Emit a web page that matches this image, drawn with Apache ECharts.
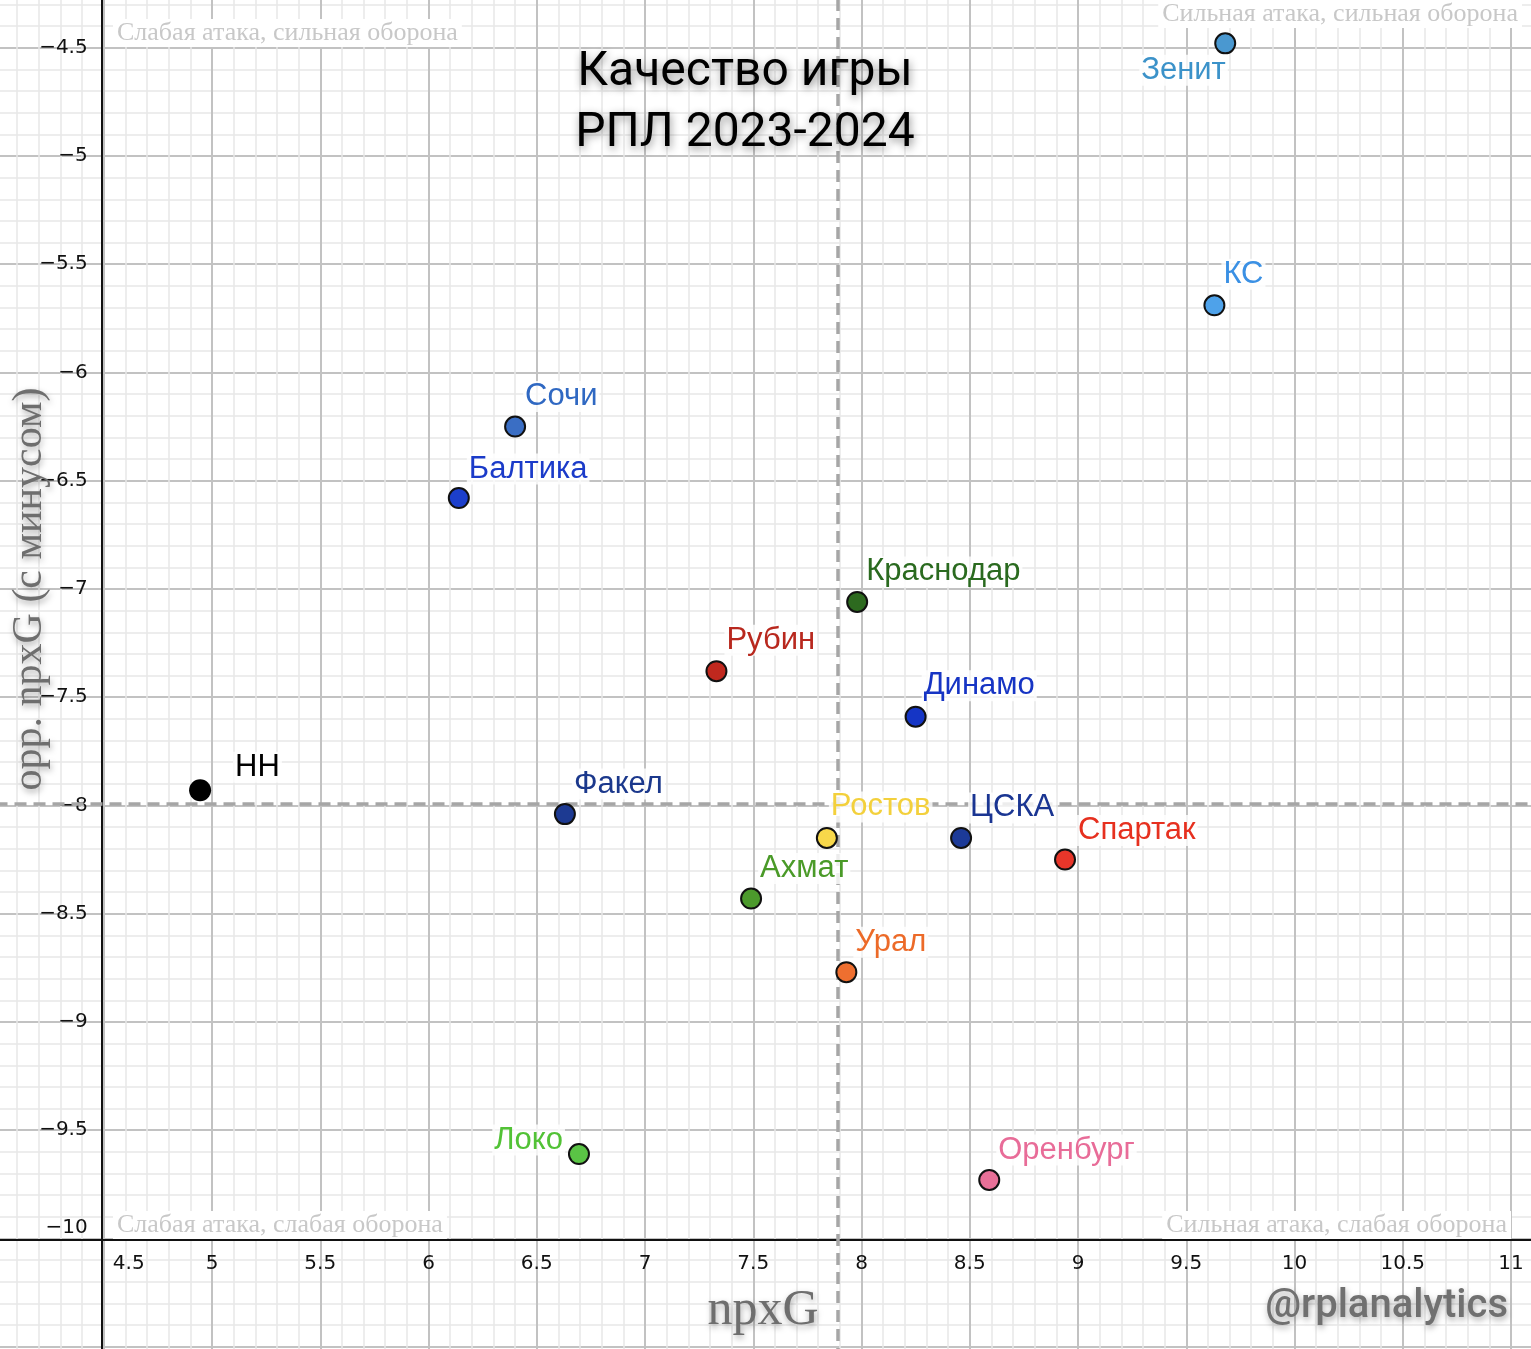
<!DOCTYPE html>
<html>
<head>
<meta charset="utf-8">
<script src="https://cdn.jsdelivr.net/npm/echarts@6/dist/echarts.min.js"></script>
<style>
html,body{margin:0;padding:0;background:#fff;}
#chart{width:1531px;height:1349px;}
</style>
</head>
<body>
<div id="chart"></div>
<script>
// ---- data ----
const teams = ['Зенит','КС','Сочи','Балтика','Краснодар','Рубин','Динамо','НН','Факел','Ростов','ЦСКА','Спартак','Ахмат','Урал','Локо','Оренбург'];
const npxG = [9.68, 9.63, 6.40, 6.14, 7.98, 7.33, 8.25, 4.945, 6.63, 7.84, 8.46, 8.94, 7.49, 7.93, 6.695, 8.59];
const oppNpxG = [-4.48, -5.69, -6.25, -6.58, -7.06, -7.38, -7.59, -7.93, -8.04, -8.15, -8.15, -8.25, -8.43, -8.77, -9.61, -9.73];
const meanX = 7.887;
const meanY = -7.993;
const xTickLabels = [4.5, 5, 5.5, 6, 6.5, 7, 7.5, 8, 8.5, 9, 9.5, 10, 10.5, 11];
const yTickLabels = [-4.5, -5, -5.5, -6, -6.5, -7, -7.5, -8, -8.5, -9, -9.5, -10];
const titleText = 'Качество игры\nРПЛ 2023-2024';
const xName = 'npxG';
const yName = 'opp. npxG (с минусом)';
const cornerTexts = ['Слабая атака, сильная оборона', 'Сильная атака, сильная оборона', 'Слабая атака, слабая оборона', 'Сильная атака, слабая оборона'];
const watermark = '@rplanalytics';

// ---- styles ----
const teamColors = ['#3b92c9','#3a90e4','#2f68c2','#1b3bc9','#2a6a1f','#b8281e','#1634c4','#000000','#1b388c','#f3d03c','#1a3592','#e6301f','#4a9a28','#ec6a28','#52c236','#e86c98'];
const pointColors = ['#4a98d0','#4ea2ea','#3a6ec4','#1c3fcc','#2d6a1f','#c0281e','#1535c5','#000000','#1d3a92','#f8d84a','#1c3a98','#e8362a','#4c9a2c','#ee6f30','#5ac445','#e87098'];
// label placement relative to point centre: [dx, dy, align]
const labelPlace = {
  'Зенит': [-84, 27, 'left'], 'КС': [9, -31, 'left'], 'Сочи': [10, -30, 'left'], 'Балтика': [10, -29, 'left'],
  'Краснодар': [9, -30, 'left'], 'Рубин': [10, -31, 'left'], 'Динамо': [8, -31, 'left'], 'НН': [35, -23, 'left'],
  'Факел': [9, -30, 'left'], 'Ростов': [4, -31, 'left'], 'ЦСКА': [9, -30, 'left'], 'Спартак': [13, -29, 'left'],
  'Ахмат': [9, -30, 'left'], 'Урал': [9, -30, 'left'], 'Локо': [-16, -14, 'right'], 'Оренбург': [9, -30, 'left']
};

const minus = s => String(s).replace('-', '\u2212');
const sans = 'DejaVu Sans, Arial, sans-serif';
const labelFont = 'Liberation Sans, Arial, sans-serif';
const serif = 'Liberation Serif, Times New Roman, serif';

const data = teams.map((t, i) => {
  const p = labelPlace[t];
  const pad = 2;
  return {
    name: t,
    value: [npxG[i], oppNpxG[i]],
    symbolSize: t === 'НН' ? 22 : 20,
    itemStyle: { color: pointColors[i], borderColor: '#111', borderWidth: t === 'НН' ? 0 : 2, opacity: 1 },
    label: {
      show: true, formatter: t, position: 'inside',
      align: p[2], verticalAlign: 'middle',
      offset: [p[2] === 'left' ? p[0] - pad : p[0] + pad, p[1]],
      color: teamColors[i], fontSize: 31, fontFamily: labelFont,
      backgroundColor: 'rgba(255,255,255,0.8)', padding: [0, pad]
    }
  };
});

const near = (arr, v) => arr.some(a => Math.abs(a - v) < 1e-6);

const chart = echarts.init(document.getElementById('chart'), null, { renderer: 'canvas' });
const W = 216.5;
const option = {
  backgroundColor: '#ffffff',
  animation: false,
  grid: { left: -4.5, top: 47.7 - 0.5 * W, width: 7.5 * W, height: 7 * W, outerBoundsMode: 'none', containLabel: false },
  xAxis: {
    type: 'value', min: 4, max: 11.5, interval: 0.5,
    offset: 1240 - (47.7 - 0.5 * W + 7 * W),
    axisLine: { show: true, onZero: false, lineStyle: { color: '#111', width: 2 } },
    axisTick: { show: false },
    axisLabel: {
      margin: 14, color: '#111', fontSize: 20, fontFamily: sans,
      showMinLabel: true, showMaxLabel: true,
      formatter: v => {
        if (!near(xTickLabels, v)) return '';
        const s = String(Math.round(v * 10) / 10);
        return Math.abs(v - xTickLabels[0]) < 1e-6 ? '{f|' + s + '}' : s;
      },
      rich: { f: { fontSize: 20, fontFamily: sans, color: '#111', padding: [0, 0, 0, 50] } }
    },
    splitLine: { show: true, lineStyle: { color: '#c2c2c2', width: 2 } },
    minorTick: { show: false, splitNumber: 5 },
    minorSplitLine: { show: true, lineStyle: { color: '#e8e8e8', width: 1.5 } }
  },
  yAxis: {
    type: 'value', min: -11, max: -4, interval: 0.5,
    offset: -(101.7 + 4.5),
    axisLine: { show: true, onZero: false, lineStyle: { color: '#111', width: 2 } },
    axisTick: { show: false },
    axisLabel: {
      margin: 14, color: '#111', fontSize: 20, fontFamily: sans,
      showMinLabel: true, showMaxLabel: true,
      formatter: v => {
        if (!near(yTickLabels, v)) return '';
        const s = minus(Math.round(v * 10) / 10);
        return Math.abs(v - yTickLabels[yTickLabels.length - 1]) < 1e-6 ? '{l|' + s + '}' : s;
      },
      rich: { l: { fontSize: 20, fontFamily: sans, color: '#111', padding: [0, 0, 22, 0] } }
    },
    splitLine: { show: true, lineStyle: { color: '#c2c2c2', width: 2 } },
    minorTick: { show: false, splitNumber: 5 },
    minorSplitLine: { show: true, lineStyle: { color: '#e8e8e8', width: 1.5 } }
  },
  series: [{
    type: 'scatter',
    data: data,
    z: 5,
    itemStyle: { opacity: 1 },
    markLine: {
      silent: true, symbol: 'none', z: 3,
      label: { show: false },
      lineStyle: { color: '#a6a6a6', width: 3.5, type: [12, 7], opacity: 1 },
      data: [{ xAxis: meanX }, { yAxis: meanY }]
    }
  }],
  graphic: [
    { type: 'text', z: 10, style: { text: titleText, x: 745, y: 103, textAlign: 'center', textVerticalAlign: 'middle',
      fontSize: 48, fontFamily: 'Roboto', fontWeight: 'normal', lineHeight: 61, fill: '#000',
      textShadowColor: 'rgba(0,0,0,0.45)', textShadowBlur: 8, textShadowOffsetX: 1, textShadowOffsetY: 3 } },
    { type: 'text', z: 10, style: { text: cornerTexts[0], x: 113, y: 33, textAlign: 'left', textVerticalAlign: 'middle',
      fontSize: 26, fontFamily: serif, fill: '#c8c8c8', backgroundColor: '#fff', padding: [1, 4] } },
    { type: 'text', z: 10, style: { text: cornerTexts[1], x: 1522, y: 14, textAlign: 'right', textVerticalAlign: 'middle',
      fontSize: 26, fontFamily: serif, fill: '#c8c8c8', backgroundColor: '#fff', padding: [1, 4] } },
    { type: 'text', z: 10, style: { text: cornerTexts[2], x: 113, y: 1225, textAlign: 'left', textVerticalAlign: 'middle',
      fontSize: 26, fontFamily: serif, fill: '#c8c8c8', backgroundColor: '#fff', padding: [1, 4] } },
    { type: 'text', z: 10, style: { text: cornerTexts[3], x: 1511, y: 1225, textAlign: 'right', textVerticalAlign: 'middle',
      fontSize: 26, fontFamily: serif, fill: '#c8c8c8', backgroundColor: '#fff', padding: [1, 4] } },
    { type: 'text', z: 10, style: { text: xName, x: 763, y: 1311, textAlign: 'center', textVerticalAlign: 'middle',
      fontSize: 50, fontFamily: serif, fill: '#6e6e6e',
      textShadowColor: 'rgba(0,0,0,0.35)', textShadowBlur: 6, textShadowOffsetX: 1, textShadowOffsetY: 3 } },
    { type: 'text', z: 10, x: 30, y: 589, rotation: Math.PI / 2, style: { text: yName, x: 0, y: 0, textAlign: 'center', textVerticalAlign: 'middle',
      fontSize: 42, fontFamily: serif, fill: '#6e6e6e',
      textShadowColor: 'rgba(0,0,0,0.35)', textShadowBlur: 6, textShadowOffsetX: 1, textShadowOffsetY: 3 } },
    { type: 'text', z: 10, style: { text: watermark, x: 1508, y: 1307, textAlign: 'right', textVerticalAlign: 'middle',
      fontSize: 40, fontFamily: 'Roboto', fontWeight: 500, fill: '#707070',
      textShadowColor: 'rgba(0,0,0,0.35)', textShadowBlur: 6, textShadowOffsetX: 1, textShadowOffsetY: 3 } }
  ]
};
chart.setOption(option);
</script>
</body>
</html>
